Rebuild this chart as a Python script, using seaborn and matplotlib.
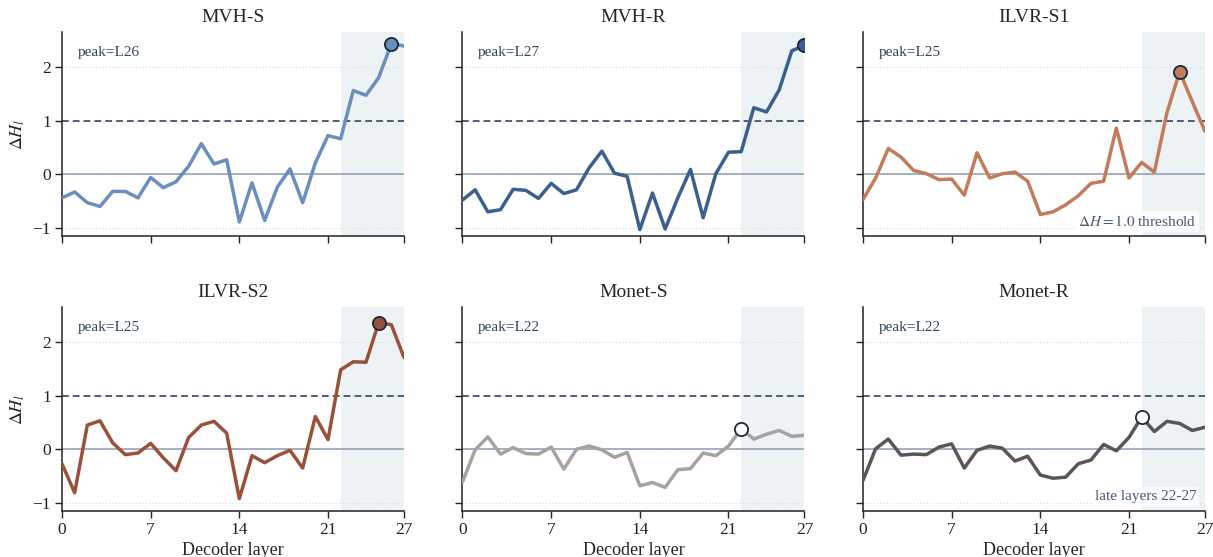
import numpy as np
import pandas as pd
import matplotlib
matplotlib.use("Agg")
import matplotlib.pyplot as plt
import seaborn as sns

layers = list(range(28))

mvh_s = [-0.44, -0.33, -0.53, -0.60, -0.32, -0.32, -0.44, -0.06, -0.25, -0.14,
         0.15, 0.57, 0.19, 0.27, -0.89, -0.16, -0.86, -0.24, 0.10, -0.53,
         0.21, 0.72, 0.66, 1.56, 1.47, 1.80, 2.43, 2.39]
mvh_r = [-0.48, -0.29, -0.70, -0.66, -0.28, -0.30, -0.45, -0.17, -0.36, -0.29,
         0.12, 0.43, 0.02, -0.04, -1.03, -0.35, -1.02, -0.44, 0.09, -0.81,
         0.01, 0.41, 0.42, 1.24, 1.16, 1.57, 2.30, 2.40]
ilvr_s1 = [-0.47, -0.07, 0.48, 0.32, 0.07, 0.01, -0.10, -0.09, -0.39, 0.40,
           -0.07, 0.01, 0.04, -0.13, -0.75, -0.70, -0.57, -0.40, -0.17, -0.13,
           0.86, -0.07, 0.22, 0.04, 1.15, 1.91, 1.35, 0.80]
ilvr_s2 = [-0.27, -0.81, 0.45, 0.53, 0.12, -0.10, -0.07, 0.11, -0.16, -0.40,
           0.22, 0.45, 0.52, 0.30, -0.92, -0.12, -0.25, -0.12, -0.02, -0.35,
           0.61, 0.18, 1.48, 1.63, 1.62, 2.36, 2.32, 1.71]
monet_s = [-0.61, -0.01, 0.23, -0.09, 0.03, -0.08, -0.09, 0.04, -0.37, 0.00,
           0.06, -0.01, -0.15, -0.06, -0.68, -0.62, -0.71, -0.38, -0.36, -0.07,
           -0.12, 0.06, 0.38, 0.19, 0.28, 0.35, 0.24, 0.26]
monet_r = [-0.58, 0.01, 0.19, -0.11, -0.09, -0.10, 0.04, 0.10, -0.35, -0.02,
           0.06, 0.02, -0.22, -0.13, -0.48, -0.54, -0.52, -0.27, -0.20, 0.09,
           -0.03, 0.22, 0.60, 0.33, 0.52, 0.48, 0.35, 0.41]

methods = ["MVH-S", "MVH-R", "ILVR-S1", "ILVR-S2", "Monet-S", "Monet-R"]
series = [mvh_s, mvh_r, ilvr_s1, ilvr_s2, monet_s, monet_r]
colors = ["#6a8fbe", "#3b5f8e", "#c27b5b", "#9a5139", "#a3a3a3", "#575757"]

threshold = 1.0
late_start, late_end = 22, 27
x_ticks = [0, 7, 14, 21, 27]
y_ticks = [-1, 0, 1, 2]

df = pd.DataFrame({
    "layer": layers * len(methods),
    "dH": sum(series, []),
    "method": np.repeat(methods, len(layers)),
})

sns.set_theme(style="ticks")
plt.rcParams["font.family"] = ["Liberation Serif", "DejaVu Serif"]
plt.rcParams["mathtext.fontset"] = "stix"

text_col = "#34455e"

fig, axes = plt.subplots(2, 3, figsize=(12.13, 5.57), dpi=100, sharex=True, sharey=True)
fig.subplots_adjust(left=0.0511, right=0.9934, bottom=0.0826, top=0.9426,
                    wspace=0.171, hspace=0.348)

for i, (ax, name, col) in enumerate(zip(axes.flat, methods, colors)):
    sub = df[df["method"] == name]
    ax.axvspan(late_start, late_end, color="#edf2f5", lw=0, zorder=0)
    ax.yaxis.grid(True, ls=(0, (1, 2)), color="#d3d8dd", lw=0.8)
    ax.set_axisbelow(True)
    ax.axhline(0, color="#8d9db1", lw=1.1, zorder=1)
    ax.axhline(threshold, color="#34455e", lw=1.2, ls=(0, (4, 2.5)), zorder=1)
    sns.lineplot(data=sub, x="layer", y="dH", color=col, lw=2.5, ax=ax, zorder=3)
    pk = int(sub["dH"].values.argmax())
    pv = sub["dH"].values[pk]
    face = col if pv >= threshold else "white"
    ax.plot([pk], [pv], marker="o", ms=9.5, mfc=face, mec="#1d2838", mew=1.3,
            ls="none", zorder=4)
    ax.text(0.045, 0.9, f"peak=L{pk}", transform=ax.transAxes, color=text_col,
            fontsize=11, va="center", ha="left")
    ax.set_title(name, fontsize=14, pad=7)
    ax.set_xlim(0, 27)
    ax.set_ylim(-1.15, 2.65)
    ax.set_xticks(x_ticks)
    ax.set_yticks(y_ticks)
    ax.tick_params(axis="both", labelsize=12.5, length=5, width=1.0, direction="out",
                   colors="#222222", pad=3)
    for s in ["left", "bottom"]:
        ax.spines[s].set_linewidth(1.1)
        ax.spines[s].set_color("#222222")
    sns.despine(ax=ax)
    ax.set_xlabel("Decoder layer" if i >= 3 else "", fontsize=13, labelpad=3)
    ax.set_ylabel(r"$\Delta H_l$" if i % 3 == 0 else "", fontsize=13)

bbox = dict(boxstyle="square,pad=0.2", fc="white", ec="none", alpha=0.75)
axes[0, 2].text(0.975, 0.07, r"$\Delta H = 1.0$ threshold", transform=axes[0, 2].transAxes,
                ha="right", va="center", fontsize=11, color="#4a5a72", bbox=bbox, zorder=5)
axes[1, 2].text(0.975, 0.07, "late layers 22-27", transform=axes[1, 2].transAxes,
                ha="right", va="center", fontsize=11, color="#4a5a72", bbox=bbox, zorder=5)

fig.savefig("out.png", dpi=100)
